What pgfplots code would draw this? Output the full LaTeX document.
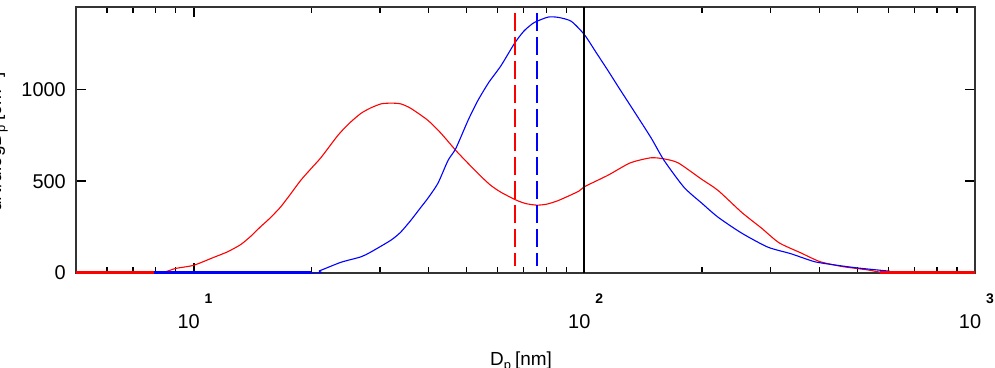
\documentclass[border=0pt]{standalone}
\usepackage{fontspec}
\setmainfont{Liberation Sans}
\usepackage{pgfplots}
\pgfplotsset{compat=1.18}
\newcommand\lab[1]{\mbox{\fontsize{20}{24}\selectfont 10\rlap{\hspace{5bp}\raisebox{25bp}{\fontsize{14}{14}\selectfont\bfseries #1}}}}
\newcommand\ylab[1]{\mbox{\fontsize{20}{24}\selectfont #1}}
\begin{document}
\begin{tikzpicture}
\begin{axis}[
  at={(0,0)}, anchor=south west,
  scale only axis, width=899bp, height=266bp,
  xmode=log, log basis x=10,
  xmin=5, xmax=1000, ymin=0, ymax=1450,
  xtick={10,100,1000},
  xticklabels={{\lab{1}},{\lab{2}},{\lab{3}}},
  minor xtick={6,7,8,9,20,30,40,50,60,70,80,90,200,300,400,500,600,700,800,900},
  ytick={0,500,1000},
  yticklabels={{\ylab{0}},{\ylab{500}},{\ylab{1000}}},
  minor ytick={},
  tick align=inside,
  major tick length=10bp, minor tick length=6bp,
  every major tick/.style={line width=1.8bp, black},
  every minor tick/.style={line width=1.3bp, black},
  axis line style={line width=1.5bp, black!80},
  xticklabel style={anchor=base, yshift=-55.5bp, xshift=-5bp, inner sep=0pt},
  yticklabel style={anchor=east, xshift=-10bp, inner sep=0pt},
  xlabel={D\raisebox{-4bp}{\fontsize{13}{13}\selectfont p}\hspace{4bp}[nm]},
  xlabel style={at={(axis description cs:0.495,-0.346)}, anchor=base, inner sep=0pt, font=\fontsize{19}{21}\selectfont},
  ylabel={dN/dlogD\raisebox{-4bp}{\fontsize{13}{13}\selectfont p} [cm\textsuperscript{-3}]},
  ylabel style={at={(axis description cs:-0.0755,0.4925)}, anchor=south, inner sep=0pt, font=\fontsize{19}{21}\selectfont},
]
% red distribution
\addplot[red, line width=1.1bp, smooth, tension=0.4] coordinates {
(5,0) (7.9,0) (8.5,8) (9,25) (10,42) (11.25,85) (12.2,115) (13.2,155) (14,200)
(14.8,250) (15.7,300) (16.7,360) (17.7,430) (18.8,505) (20,570) (21.2,630)
(23.4,750) (25,815) (26.8,870) (28.4,900) (30.2,922) (32,926) (33.9,922)
(36,897) (39.8,832) (43,761) (46.9,668) (50.4,598) (54.5,525) (57.6,478)
(61.2,440) (67,397) (71,378) (75.6,370) (80,375) (85.8,395) (96.8,446) (100,470)
(115,533) (131,600) (148,628) (160,622) (174,600) (200,510) (220,450)
(253,330) (284,245) (315,165) (358,110) (401,62) (458,35) (527,18) (570,5)
(600,0) (1000,0)};
% blue distribution
\addplot[blue, line width=1.1bp, smooth, tension=0.4] coordinates {
(7.9,0) (20,0) (21,12) (23.8,58) (26.8,88) (28.4,114) (32,179) (33.9,223)
(36,288) (38.2,359) (39.8,408) (42.2,489) (44.8,614) (46.9,679) (50.4,832)
(53.4,940) (57,1040) (61.2,1130) (66.2,1250) (70,1318) (74.3,1364) (80.8,1395)
(86,1393) (92.6,1372) (100,1300) (107,1205) (115,1103) (123,1005) (131,915)
(148,739) (160,614) (180,467) (200,380) (220,304) (253,217) (295,141)
(338,105) (388,62) (437,44) (503,27) (605,10)};
% thick zero segments
\addplot[red, line width=4bp] coordinates {(5,0) (7.9,0)};
\addplot[blue, line width=4bp] coordinates {(7.9,0) (20,0)};
\addplot[red, line width=4bp] coordinates {(570,0) (1000,0)};
% vertical markers
\addplot[color=red, line width=1.3bp, dash pattern=on 18bp off 6bp] coordinates {(66.5,1415) (66.5,40)};
\addplot[color=blue, line width=1.3bp, dash pattern=on 18bp off 6bp] coordinates {(75.7,1415) (75.7,40)};
\addplot[black, line width=2bp] coordinates {(100,0) (100,1450)};
\end{axis}
\pgfresetboundingbox
\useasboundingbox (-76bp,-95bp) rectangle (919bp,273bp);
\end{tikzpicture}
\end{document}
